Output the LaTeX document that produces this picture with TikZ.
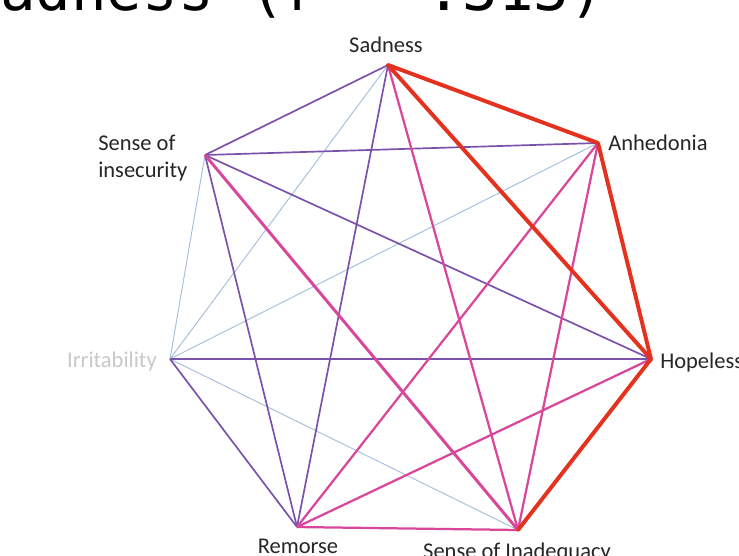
\documentclass[tikz,border=0pt]{standalone}
\usepackage{fontspec}
\setmainfont{Carlito}
\newfontfamily\titlefont{DejaVu Sans Mono}
\usepackage{tikz}
\definecolor{edgered}{HTML}{E5321F}
\definecolor{edgepink}{HTML}{D9479A}
\definecolor{edgepurple}{HTML}{7A52AC}
\definecolor{edgeblue}{HTML}{A9C0DC}
\definecolor{labelgrey}{HTML}{C8C8C8}

\begin{document}
\begin{tikzpicture}[
          x=0.025cm, y=-0.025cm,
          every node/.style={inner sep=0pt, font=\fontsize{16}{19}\selectfont, text=black!85},
          redline/.style={draw=edgered, line width=2.8pt},
          pinkline/.style={draw=edgepink, line width=1.6pt},
          purpleline/.style={draw=edgepurple, line width=1.2pt},
          blueline/.style={draw=edgeblue, line width=0.7pt}
        ]
        \useasboundingbox (0,0) rectangle (739,555);
        % title, cut off by the page
        \node[anchor=base west, font=\titlefont\fontsize{42}{50}\selectfont, text=black]
          (title) at (-35.5,10) {Sadness (r = .313)};
        % vertices
        \coordinate (sad) at (388,65);
        \coordinate (anh) at (598,143);
        \coordinate (hop) at (651,359);
        \coordinate (inad) at (518,530);
        \coordinate (rem) at (297,527);
        \coordinate (irr) at (170,359);
        \coordinate (ins) at (205,155);
        % labels
        \node[anchor=base] (sadlbl) at (386,52) {Sadness};
        \node[anchor=base west] (anhlbl) at (608,150) {Anhedonia};
        \node[anchor=base west] (hoplbl) at (660,368) {Hopelessness};
        \node[anchor=base] (inadlbl) at (517,558) {Sense of Inadequacy};
        \node[anchor=base] (remlbl) at (298,553) {Remorse};
        \node[anchor=base east, text=labelgrey] (irrlbl) at (157,367) {Irritability};
        \node[anchor=base west, align=left] (inslbl) at (98,177) {Sense of\\insecurity};
        % edges
        \foreach \a/\b in {sad/irr, anh/irr, irr/ins, irr/inad}
          \path[blueline] (\a) -- (\b);
        \foreach \a/\b in {sad/ins, sad/rem, anh/ins, hop/irr, hop/ins, rem/irr, rem/ins}
          \path[purpleline] (\a) -- (\b);
        \foreach \a/\b in {sad/inad, anh/rem, anh/inad, hop/rem, inad/rem}
          \path[pinkline] (\a) -- (\b);
        \path[pinkline, line width=2.1pt] (ins) -- (inad);
        \foreach \a/\b in {sad/anh, sad/hop, anh/hop, hop/inad}
          \path[redline, line cap=round] (\a) -- (\b);
      \end{tikzpicture}
\end{document}
